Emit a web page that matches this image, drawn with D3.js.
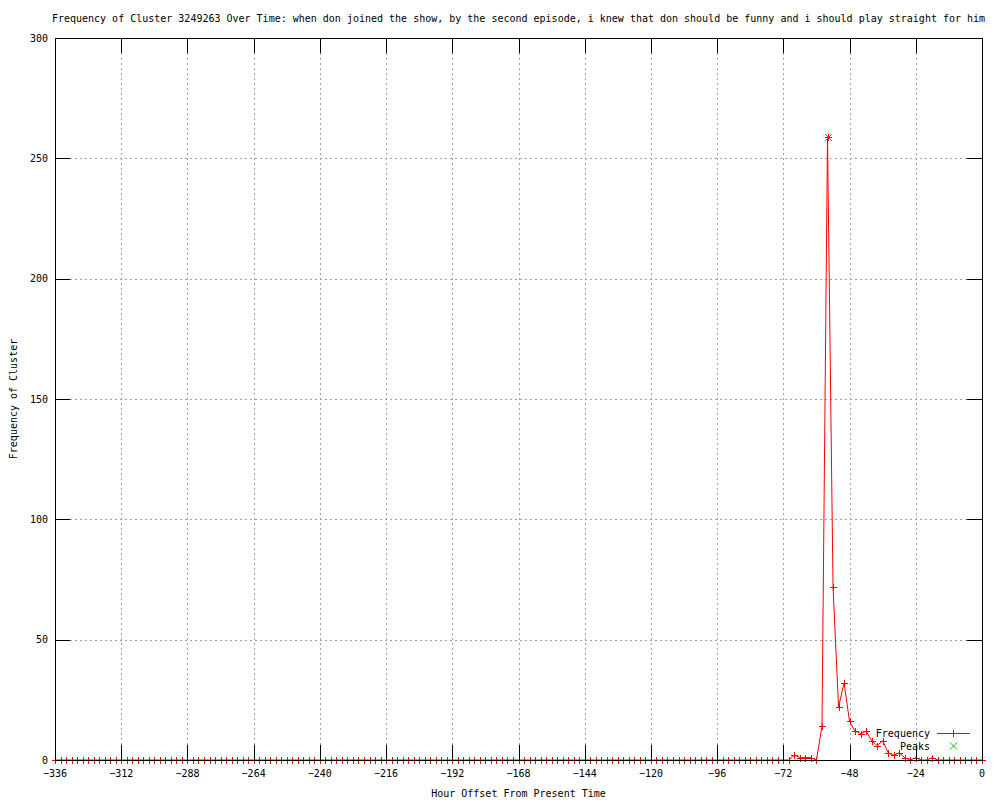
<!DOCTYPE html>
<html>
<head>
<meta charset="utf-8">
<script src="https://cdn.jsdelivr.net/npm/d3@7"></script>
<style>
  html, body { margin: 0; padding: 0; background: #fff; }
  svg { display: block; }
  text { font-family: "DejaVu Sans Mono", "Liberation Mono", monospace; font-size: 10px; fill: #000; }
</style>
</head>
<body>
<svg id="chart" width="1000" height="800"></svg>
<script>
const titleText = "Frequency of Cluster 3249263 Over Time: when don joined the show, by the second episode, i knew that don should be funny and i should play straight for him";
const xLabel = "Hour Offset From Present Time";
const yLabel = "Frequency of Cluster";

const hours = [
  -336,-334,-332,-330,-328,-326,-324,-322,-320,-318,-316,-314,-312,-310,-308,-306,-304,-302,-300,-298,
  -296,-294,-292,-290,-288,-286,-284,-282,-280,-278,-276,-274,-272,-270,-268,-266,-264,-262,-260,-258,
  -256,-254,-252,-250,-248,-246,-244,-242,-240,-238,-236,-234,-232,-230,-228,-226,-224,-222,-220,-218,
  -216,-214,-212,-210,-208,-206,-204,-202,-200,-198,-196,-194,-192,-190,-188,-186,-184,-182,-180,-178,
  -176,-174,-172,-170,-168,-166,-164,-162,-160,-158,-156,-154,-152,-150,-148,-146,-144,-142,-140,-138,
  -136,-134,-132,-130,-128,-126,-124,-122,-120,-118,-116,-114,-112,-110,-108,-106,-104,-102,-100,-98,
  -96,-94,-92,-90,-88,-86,-84,-82,-80,-78,-76,-74,-72,-70,-68,-66,-64,-62,-60,-58,
  -56,-54,-52,-50,-48,-46,-44,-42,-40,-38,-36,-34,-32,-30,-28,-26,-24,-22,-20,-18,
  -16,-14,-12,-10,-8,-6,-4,-2,0
];
const frequency = [
  0,0,0,0,0,0,0,0,0,0,0,0,0,0,0,0,0,0,0,0,
  0,0,0,0,0,0,0,0,0,0,0,0,0,0,0,0,0,0,0,0,
  0,0,0,0,0,0,0,0,0,0,0,0,0,0,0,0,0,0,0,0,
  0,0,0,0,0,0,0,0,0,0,0,0,0,0,0,0,0,0,0,0,
  0,0,0,0,0,0,0,0,0,0,0,0,0,0,0,0,0,0,0,0,
  0,0,0,0,0,0,0,0,0,0,0,0,0,0,0,0,0,0,0,0,
  0,0,0,0,0,0,0,0,0,0,0,0,0,0,2,1,1,1,0,14,
  259,72,22,32,16,12,11,12,8,6,8,3,2,3,1,0,1,0,0,1,
  0,0,0,0,0,0,0,0,0
];
const peakHours = [-56];
const peakValues = [259];

const xTicks = [-336,-312,-288,-264,-240,-216,-192,-168,-144,-120,-96,-72,-48,-24,0];
const yTicks = [0,50,100,150,200,250,300];

const svg = d3.select("#chart");
const L = 55, R = 982, T = 38, B = 760;

const x = d3.scaleLinear().domain([-336, 0]).range([L, R]);
const y = d3.scaleLinear().domain([0, 300]).range([B, T]);

const px = v => Math.round(v) + 0.5;

// grid
const grid = svg.append("g").attr("shape-rendering", "crispEdges");
grid.selectAll("line.gx").data(xTicks.slice(1, -1)).join("line")
  .attr("x1", d => px(x(d))).attr("x2", d => px(x(d)))
  .attr("y1", T).attr("y2", B)
  .attr("stroke", "#a0a0a0").attr("stroke-dasharray", "2,3");
grid.selectAll("line.gy").data(yTicks.slice(1, -1)).join("line")
  .attr("y1", d => px(y(d))).attr("y2", d => px(y(d)))
  .attr("x1", L).attr("x2", R)
  .attr("stroke", "#a0a0a0").attr("stroke-dasharray", "2,3");

// data line
const pts = hours.map((h, i) => [h, frequency[i]]);
const line = d3.line().x(d => x(d[0])).y(d => y(d[1]));
svg.append("path").datum(pts)
  .attr("d", line).attr("fill", "none").attr("stroke", "#ff0000").attr("stroke-width", 1);

// plus markers
const m = 3.5;
const plus = svg.append("g").attr("stroke", "#ff0000").attr("stroke-width", 1).attr("shape-rendering", "crispEdges");
pts.forEach(d => {
  const cx = Math.round(x(d[0])) + 0.5, cy = Math.round(y(d[1])) + 0.5;
  plus.append("line").attr("x1", cx - m).attr("x2", cx + m).attr("y1", cy).attr("y2", cy);
  plus.append("line").attr("x1", cx).attr("x2", cx).attr("y1", cy - m).attr("y2", cy + m);
});

// peaks (green x)
const pk = svg.append("g").attr("stroke", "#00c000").attr("stroke-width", 1);
peakHours.forEach((h, i) => {
  const cx = Math.round(x(h)) + 0.5, cy = Math.round(y(peakValues[i])) + 0.5;
  pk.append("line").attr("x1", cx - m).attr("x2", cx + m).attr("y1", cy - m).attr("y2", cy + m);
  pk.append("line").attr("x1", cx - m).attr("x2", cx + m).attr("y1", cy + m).attr("y2", cy - m);
});

// border and ticks
const frame = svg.append("g").attr("stroke", "#000").attr("stroke-width", 1).attr("shape-rendering", "crispEdges");
frame.append("rect").attr("x", L + 0.5).attr("y", T + 0.5).attr("width", R - L).attr("height", B - T).attr("fill", "none");
const tl = 15;
xTicks.forEach(t => {
  const xx = px(x(t));
  frame.append("line").attr("x1", xx).attr("x2", xx).attr("y1", B).attr("y2", B - tl);
  frame.append("line").attr("x1", xx).attr("x2", xx).attr("y1", T).attr("y2", T + tl);
});
yTicks.forEach(t => {
  const yy = px(y(t));
  frame.append("line").attr("x1", L).attr("x2", L + tl).attr("y1", yy).attr("y2", yy);
  frame.append("line").attr("x1", R).attr("x2", R - tl).attr("y1", yy).attr("y2", yy);
});

// tick labels
svg.append("g").selectAll("text").data(xTicks).join("text")
  .attr("x", d => x(d)).attr("y", 777).attr("text-anchor", "middle")
  .text(d => d < 0 ? "\u2212" + Math.abs(d) : d);
svg.append("g").selectAll("text").data(yTicks).join("text")
  .attr("x", 48).attr("y", d => y(d) + 3.5).attr("text-anchor", "end")
  .text(d => d);

// titles
svg.append("text").attr("x", (L + R) / 2).attr("y", 22).attr("text-anchor", "middle").text(titleText);
svg.append("text").attr("x", (L + R) / 2).attr("y", 797).attr("text-anchor", "middle").text(xLabel);
svg.append("text").attr("transform", `translate(17,${(T + B) / 2}) rotate(-90)`).attr("text-anchor", "middle").text(yLabel);

// legend
const lg = svg.append("g");
lg.append("text").attr("x", 930).attr("y", 737).attr("text-anchor", "end").text("Frequency");
lg.append("line").attr("x1", 937).attr("x2", 970).attr("y1", 733.5).attr("y2", 733.5).attr("stroke", "#ff0000");
lg.append("line").attr("x1", 953.5).attr("x2", 953.5).attr("y1", 730).attr("y2", 737).attr("stroke", "#ff0000");
lg.append("text").attr("x", 930).attr("y", 750).attr("text-anchor", "end").text("Peaks");
lg.append("line").attr("x1", 950).attr("x2", 957).attr("y1", 742.5).attr("y2", 749.5).attr("stroke", "#00c000");
lg.append("line").attr("x1", 950).attr("x2", 957).attr("y1", 749.5).attr("y2", 742.5).attr("stroke", "#00c000");
</script>
</body>
</html>
